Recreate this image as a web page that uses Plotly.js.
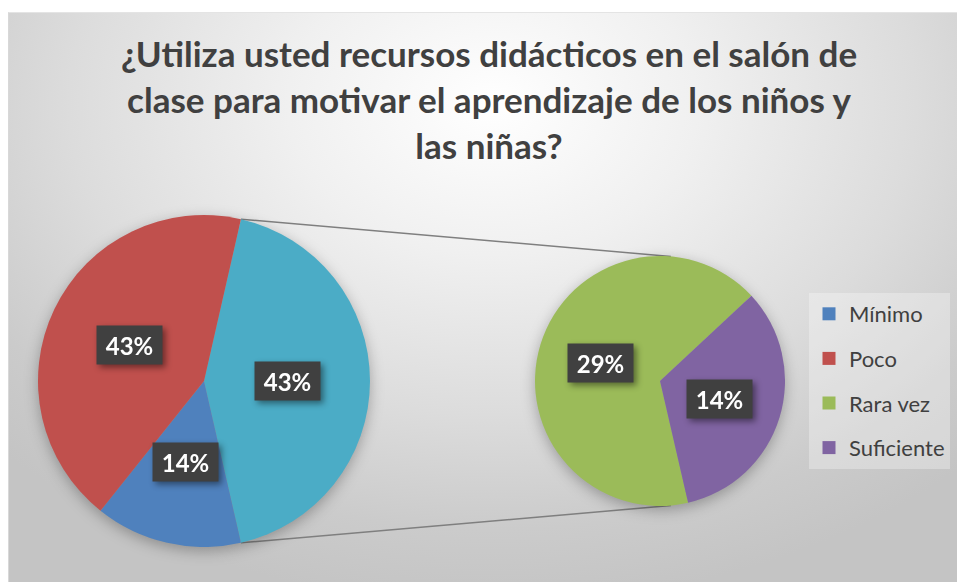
<!DOCTYPE html>
<html><head><meta charset="utf-8">
<script src="https://cdn.plot.ly/plotly-3.0.1.min.js"></script>
<style>
html,body{margin:0;padding:0;background:#fff;}
#wrap{position:relative;width:957px;height:582px;overflow:hidden;}
#bg{position:absolute;left:8px;top:12px;width:949px;height:570px;box-sizing:border-box;border-top:1px solid #e4e4e4;border-left:1px solid #d8d8d8;
background:radial-gradient(ellipse 72% 88% at 51% 16%, #ffffff 0%, #f0f0f0 30%, #dcdcdc 62%, #cbcbcb 85%, #c4c4c4 100%);}
#chart{position:absolute;left:0;top:0;width:957px;height:582px;}
.pielayer .trace{filter:drop-shadow(0px 4px 7px rgba(0,0,0,0.28));}
.annotation .annotation-text-g{filter:drop-shadow(3px 3px 3px rgba(0,0,0,0.45));}
</style></head>
<body>
<div id="wrap"><div id="bg"></div><div id="chart"></div></div>
<script>
// ---- data ----
const categories = ['Mínimo', 'Poco', 'Rara vez', 'Suficiente'];
const counts = [1, 3, 2, 1];
const mainCategories = ['Mínimo', 'Poco'];
const secondCategories = ['Rara vez', 'Suficiente'];
const otherLabel = 'Otro';
const titleLines = [
  '¿Utiliza usted recursos didácticos en el salón de',
  'clase para motivar el aprendizaje de los niños y',
  'las niñas?'
];

// ---- style ----
const palette = {'Mínimo':'#4F81BD','Poco':'#C0504D','Rara vez':'#9BBB59','Suficiente':'#8064A2','Otro':'#4BACC6'};
const W = 957, H = 582;
const G1 = {cx:204, cy:381, r:166};
const G2 = {cx:660, cy:381, r:125};
const rot2 = 167;

const total = counts.reduce((a,b)=>a+b,0);
const val = c => counts[categories.indexOf(c)];
const otherVal = secondCategories.reduce((s,c)=>s+val(c),0);

const pie1Labels = [otherLabel, ...mainCategories];
const pie1Values = [otherVal, ...mainCategories.map(val)];
const pie2Labels = secondCategories.slice();
const pie2Values = secondCategories.map(val);
const rot1 = 90 - (otherVal/total*360)/2;

function domain(g){
  return {x:[(g.cx-g.r)/W,(g.cx+g.r)/W], y:[1-(g.cy+g.r)/H, 1-(g.cy-g.r)/H]};
}
function pt(g, deg, f){
  const a = deg*Math.PI/180;
  return [(g.cx + f*g.r*Math.sin(a))/W, 1-(g.cy - f*g.r*Math.cos(a))/H];
}

const annotations = [];
function addLabels(g, labels, values, rot, pieTotal){
  let a = rot;
  labels.forEach((l,i)=>{
    const span = values[i]/pieTotal*360;
    const mid = a + span/2;
    const p = pt(g, mid, 0.5);
    annotations.push({
      x:p[0], y:p[1], xref:'paper', yref:'paper', showarrow:false,
      text: Math.round(values[i]/total*100)+'%',
      bgcolor:'#404040', width:55, height:28, borderpad:5,
      xanchor:'center', yanchor:'middle',
      font:{family:'Lato', size:24, color:'#ffffff', weight:'bold'}
    });
    a += span;
  });
}
const sum1 = pie1Values.reduce((a,b)=>a+b,0);
const sum2 = pie2Values.reduce((a,b)=>a+b,0);
addLabels(G1, pie1Labels, pie1Values, rot1, sum1);
addLabels(G2, pie2Labels, pie2Values, rot2, sum2);

const otherSpan = otherVal/total*360;
const a1 = pt(G1, rot1, 1), b1 = pt(G2, 5, 1);
const a2 = pt(G1, rot1+otherSpan, 1), b2 = pt(G2, 175, 1);
const shapes = [
  {type:'line', xref:'paper', yref:'paper', x0:a1[0], y0:a1[1], x1:b1[0], y1:b1[1], line:{color:'#7f7f7f', width:1.5}, layer:'below'},
  {type:'line', xref:'paper', yref:'paper', x0:a2[0], y0:a2[1], x1:b2[0], y1:b2[1], line:{color:'#7f7f7f', width:1.5}, layer:'below'}
];

const traces = [
  {type:'pie', labels:pie1Labels, values:pie1Values, sort:false, direction:'clockwise', rotation:rot1,
   marker:{colors:pie1Labels.map(l=>palette[l]), line:{width:0}}, textinfo:'none', showlegend:false,
   domain:domain(G1), hoverinfo:'skip'},
  {type:'pie', labels:pie2Labels, values:pie2Values, sort:false, direction:'clockwise', rotation:rot2,
   marker:{colors:pie2Labels.map(l=>palette[l]), line:{width:0}}, textinfo:'none', showlegend:false,
   domain:domain(G2), hoverinfo:'skip'}
];
categories.forEach(c=>{
  traces.push({type:'scatter', mode:'markers', x:[null], y:[null], name:c, legendgroup:c,
    marker:{symbol:'square', size:13, color:palette[c], line:{width:0}}, hoverinfo:'skip'});
});

const layout = {
  width:W, height:H, margin:{l:0,r:0,t:0,b:0},
  paper_bgcolor:'rgba(0,0,0,0)', plot_bgcolor:'rgba(0,0,0,0)',
  xaxis:{visible:false}, yaxis:{visible:false},
  title:{
    text: titleLines.map(l=>'<span style="font-size:35px">'+l+'</span>').join('<br>'),
    x:489/W, xanchor:'center', xref:'container', y:1-67/H, yanchor:'top', yref:'container',
    font:{family:'Lato', size:35.5, color:'#404040', weight:'bold'}
  },
  legend:{x:809/W, y:1-293/H, xanchor:'left', yanchor:'top', bgcolor:'rgba(255,255,255,0.3)',
    font:{family:'Lato', size:22, color:'#404040'}, tracegroupgap:13, traceorder:'grouped'},
  annotations:annotations, shapes:shapes, hovermode:false
};
Plotly.newPlot('chart', traces, layout, {staticPlot:true, displayModeBar:false});
</script>
</body></html>
